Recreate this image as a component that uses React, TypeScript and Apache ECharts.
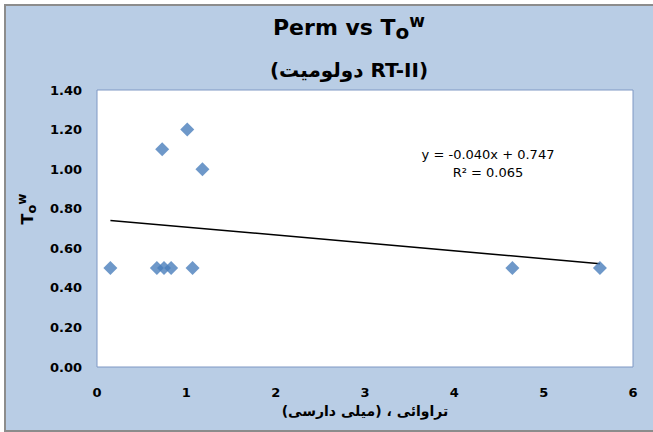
import React, { useEffect, useRef } from 'react';
import * as echarts from 'echarts';

const xValues = [0.15, 0.67, 0.75, 0.83, 1.07, 0.73, 1.01, 1.18, 4.65, 5.63];
const yValues = [0.5, 0.5, 0.5, 0.5, 0.5, 1.1, 1.2, 1.0, 0.5, 0.5];
const trendSlope = -0.04;
const trendIntercept = 0.747;
const equationLines = ['y = -0.040x + 0.747', 'R² = 0.065'];
const titleMain = '{a|Perm vs T}{o|o}{w|w}';
const titleSub = '(دولومیت RT-II)';
const xAxisName = 'تراوائی ، (میلی دارسی)\u200F';
const yAxisName = '{a|T}{o|o}{w|w}';

export default function App() {
  const ref = useRef<HTMLDivElement>(null);
  useEffect(() => {
    const chart = echarts.init(ref.current!, null, { renderer: 'svg' });
    const xMin = Math.min(...xValues);
    const xMax = Math.max(...xValues);
    const trend = [
      [xMin, trendIntercept + trendSlope * xMin],
      [xMax, trendIntercept + trendSlope * xMax],
    ];
    const font = 'DejaVu Sans';
    chart.setOption({
      animation: false,
      backgroundColor: 'transparent',
      title: [
        {
          text: titleMain,
          left: 338,
          top: 1,
          textAlign: 'center',
          textStyle: {
            rich: {
              a: { fontFamily: font, fontWeight: 'bold', fontSize: 22, lineHeight: 30, color: '#000' },
              o: { fontFamily: font, fontWeight: 'bold', fontSize: 20, lineHeight: 27, verticalAlign: 'bottom', color: '#000' },
              w: { fontFamily: font, fontWeight: 'bold', fontSize: 17, lineHeight: 17, verticalAlign: 'top', color: '#000' },
            },
          },
        },
        {
          text: titleSub,
          left: 338,
          top: 49,
          textAlign: 'center',
          textStyle: { fontFamily: font, fontWeight: 'bold', fontSize: 20, color: '#000' },
        },
      ],
      grid: {
        left: 91,
        top: 84,
        right: 20,
        bottom: 63,
        show: true,
        backgroundColor: '#ffffff',
        borderColor: '#7f98c4',
        borderWidth: 1,
      },
      xAxis: {
        type: 'value',
        min: 0,
        max: 6,
        interval: 1,
        name: xAxisName,
        nameLocation: 'middle',
        nameGap: 36,
        nameTextStyle: { fontFamily: font, fontWeight: 'bold', fontSize: 14, color: '#000' },
        axisLine: { show: false },
        axisTick: { show: false },
        splitLine: { show: false },
        axisLabel: { fontFamily: font, fontWeight: 'bold', fontSize: 13, color: '#000', margin: 19 },
      },
      yAxis: {
        type: 'value',
        min: 0,
        max: 1.4,
        interval: 0.2,
        axisLine: { show: false },
        axisTick: { show: false },
        splitLine: { show: false },
        axisLabel: {
          fontFamily: font,
          fontWeight: 'bold',
          fontSize: 13,
          color: '#000',
          margin: 15,
          formatter: (v: number) => v.toFixed(2),
        },
      },
      series: [
        {
          type: 'scatter',
          data: xValues.map((x, i) => [x, yValues[i]]),
          symbol: 'diamond',
          symbolSize: 14,
          itemStyle: { color: '#4a7ebb' },
          z: 3,
        },
        {
          type: 'line',
          data: trend,
          showSymbol: false,
          symbol: 'none',
          lineStyle: { color: '#000', width: 1.5 },
          z: 2,
        },
      ],
      graphic: [
        ...equationLines.map((t, i) => ({
          type: 'text',
          x: 482,
          y: 148 + i * 18,
          style: {
            text: t,
            fontFamily: font,
            fontSize: 13,
            fill: '#000',
            textAlign: 'center',
            textVerticalAlign: 'middle',
          },
        })),
        {
          type: 'text',
          x: 21,
          y: 203,
          rotation: Math.PI / 2,
          style: {
            text: yAxisName,
            textAlign: 'center',
            textVerticalAlign: 'middle',
            rich: {
              a: { fontFamily: font, fontWeight: 'bold', fontSize: 16, lineHeight: 22, fill: '#000' },
              o: { fontFamily: font, fontWeight: 'bold', fontSize: 13, lineHeight: 14, verticalAlign: 'bottom', fill: '#000' },
              w: { fontFamily: font, fontWeight: 'bold', fontSize: 12, lineHeight: 12, verticalAlign: 'top', fill: '#000' },
            },
          },
        },
      ],
    });
    return () => chart.dispose();
  }, []);
  return (
    <div style={{ position: 'fixed', left: 0, top: 0, width: 653, height: 432, background: '#fff' }}>
      <div
        style={{
          position: 'absolute',
          left: 4,
          top: 4,
          width: 649,
          height: 428,
          boxSizing: 'border-box',
          borderLeft: '2px solid #8c8c8c',
          borderTop: '2px solid #8c8c8c',
          borderBottom: '2px solid #8c8c8c',
          background: '#b9cde5',
        }}
      />
      <div ref={ref} style={{ position: 'absolute', left: 6, top: 6, width: 647, height: 424 }} />
    </div>
  );
}
